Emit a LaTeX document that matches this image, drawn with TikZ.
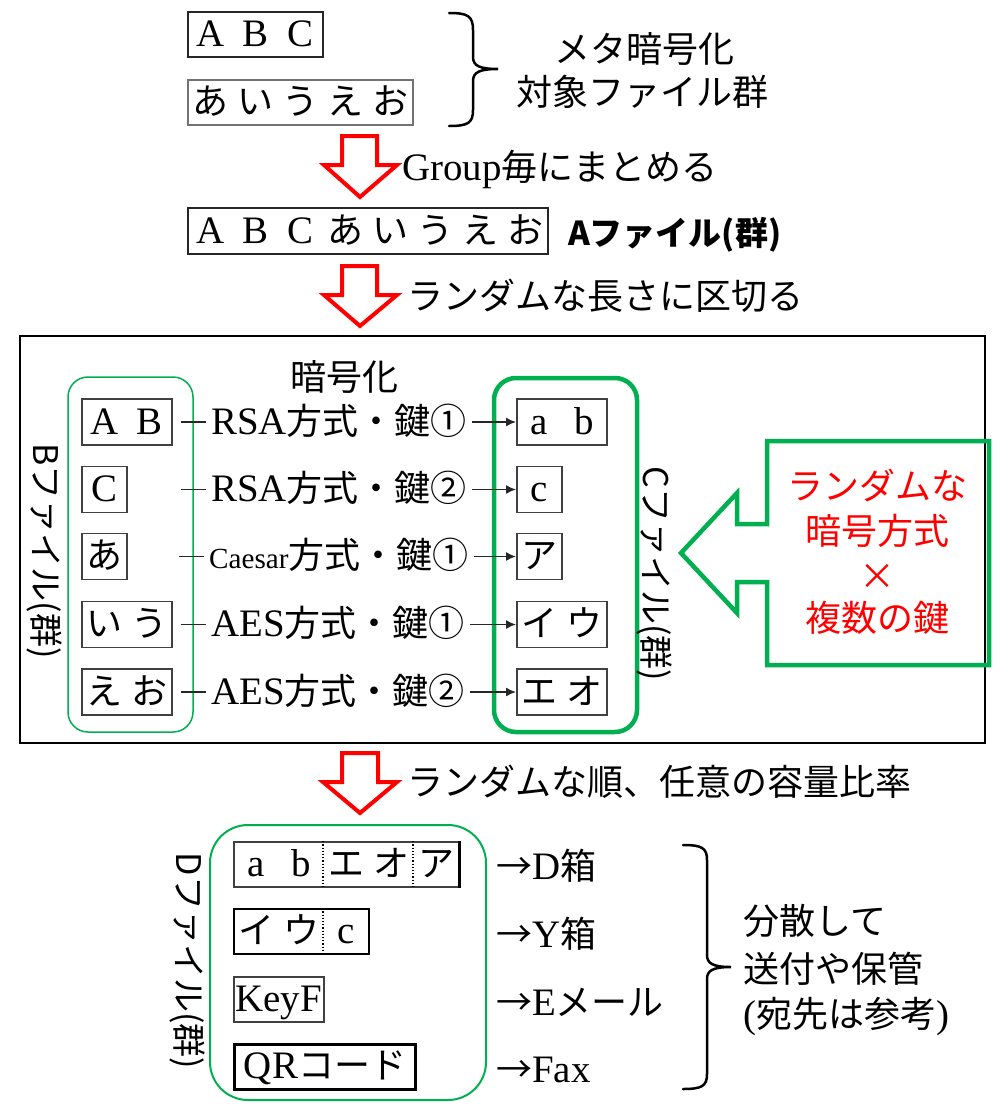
\documentclass[tikz,border=0pt]{standalone}
\usepackage{fontspec}
\setmainfont{Liberation Serif}[Scale=1.08]
\newfontfamily\jpfont{Noto Sans CJK JP}
\usetikzlibrary{arrows.meta,calc}
\definecolor{grn}{RGB}{0,176,80}
\newcommand\J[1]{{\jpfont #1}}
\newcommand\C[1]{\makebox[45pt]{#1}}
\begin{document}
\begin{tikzpicture}[x=1pt,y=-1pt,
  every node/.style={inner sep=0pt, font=\fontsize{36}{43}\selectfont, text height=31pt, text depth=7pt},
  fbox/.style={draw=black!75, line width=1.5pt, minimum height=46pt, anchor=west},
  txt/.style={anchor=west},
  lbl/.style={anchor=west, inner xsep=5pt},
  vlab/.style={rotate=-90, font=\fontsize{34}{40}\selectfont\jpfont},
  conn/.style={line width=1.5pt, draw=black!85},
  tip/.style={-{Latex[length=10pt,width=9pt]}},
  redarrow/.style={draw=red, line width=4pt, fill=white, line join=miter},
  grnarrow/.style={draw=grn, line width=4.5pt, line join=miter},
  brace/.style={line width=2.5pt, line cap=round},
  redtxt/.style={text=red}]
\useasboundingbox (0,0) rectangle (1005,1114);

% ---------- top ----------
\node[fbox, minimum height=45pt, draw=black!85] (abc) at (187,34.5) {\C{A}\C{B}\C{C}};
\node[fbox, minimum height=45pt, draw=black!55] (aiu) at (187,102.5) {\C{\J{あ}}\C{\J{い}}\C{\J{う}}\C{\J{え}}\C{\J{お}}};
\draw[brace] (449,13) .. controls (468,13) and (473,16) .. (473,30) -- (473,57)
  .. controls (473,66) and (480,69) .. (498,69) .. controls (480,69) and (473,72) .. (473,81)
  -- (473,110) .. controls (473,123) and (468,126) .. (449,126);
\node (meta1) at (644,50) {\J{メタ暗号化}};
\node (meta2) at (642,93) {\J{対象ファイル群}};

\draw[redarrow] (342,136) -- (377,136) -- (377,165) -- (397,165) -- (360,197) -- (324,165) -- (342,165) -- cycle;
\node[txt] (grp) at (402,168) {Group\J{毎にまとめる}};

\node[fbox, line width=2pt, draw=black!85] (long) at (187,231) {\C{A}\C{B}\C{C}\C{\J{あ}}\C{\J{い}}\C{\J{う}}\C{\J{え}}\C{\J{お}}};
\node[txt, font=\fontsize{33}{40}\selectfont\jpfont\bfseries] (alab) at (568,233) {Aファイル(群)};

\draw[redarrow] (342,266) -- (377,266) -- (377,295) -- (397,295) -- (360,326) -- (324,295) -- (342,295) -- cycle;
\node[txt] (rand1) at (407,297) {\J{ランダムな長さに区切る}};

% ---------- middle box ----------
\draw[line width=2pt] (20,336) rectangle (985,743);
\draw[grn, line width=1.5pt, rounded corners=20pt] (68,377) rectangle (193,732);
\draw[grn, line width=4.5pt, rounded corners=22pt] (494,378) rectangle (637,732);
\node (enc) at (344,378) {\J{暗号化}};

\node[vlab] (blab) at (45,551) {Bファイル(群)};
\node[vlab] (clab) at (655,574) {Cファイル(群)};

\node[fbox] (b1) at (81,422) {\C{A}\C{B}};
\node[fbox] (b2) at (81,489.5) {\C{C}};
\node[fbox] (b3) at (81,556.5) {\C{\J{あ}}};
\node[fbox] (b4) at (81,624.5) {\C{\J{い}}\C{\J{う}}};
\node[fbox] (b5) at (81,692) {\C{\J{え}}\C{\J{お}}};

\node[fbox] (c1) at (516,422) {\C{a}\C{b}};
\node[fbox] (c2) at (516,489.5) {\C{c}};
\node[fbox] (c3) at (516,556.5) {\C{\J{ア}}};
\node[fbox] (c4) at (516,624.5) {\C{\J{イ}}\C{\J{ウ}}};
\node[fbox] (c5) at (516,692) {\C{\J{エ}}\C{\J{オ}}};

\node[lbl] (l1) at (206,422) {RSA\J{方式・鍵①}};
\node[lbl] (l2) at (206,489.5) {RSA\J{方式・鍵②}};
\node[lbl] (l3) at (204,556.5) {{\fontsize{27}{30}\selectfont Caesar}\J{方式・鍵①}};
\node[lbl] (l4) at (206,624.5) {AES\J{方式・鍵①}};
\node[lbl] (l5) at (206,692) {AES\J{方式・鍵②}};

\coordinate (s1) at (181,422);
\coordinate (s2) at (181,489.5);
\coordinate (s3) at (179,556.5);
\coordinate (s4) at (181,624.5);
\coordinate (s5) at (181,692);
\foreach \i in {1,...,5}{
  \draw[conn] (s\i) -- (l\i.west);
  \draw[conn, tip] (l\i.east) -- (c\i.west);
}

\draw[grnarrow] (767,441) -- (989,441) -- (989,665) -- (767,665) -- (767,582) -- (737,582) -- (737,613) -- (681,553) -- (737,493) -- (737,524) -- (767,524) -- cycle;
\node[redtxt] (red1) at (877,487) {\J{ランダムな}};
\node[redtxt] (red2) at (877,532) {\J{暗号方式}};
\node[redtxt] (red3) at (877,577) {\J{×}};
\node[redtxt] (red4) at (877,619) {\J{複数の鍵}};

% ---------- bottom ----------
\draw[redarrow] (342,753) -- (378,753) -- (378,782) -- (397,782) -- (360,813) -- (323,782) -- (342,782) -- cycle;
\node[txt] (rand2) at (407,783) {\J{ランダムな順、任意の容量比率}};

\draw[grn, line width=2pt, rounded corners=38pt] (210,825) rectangle (486,1100);
\node[vlab] (dlab) at (188,961) {Dファイル(群)};

\node[fbox, minimum height=45pt] (d1) at (233,864.5) {\C{a}\C{b}\C{\J{エ}}\C{\J{オ}}\C{\J{ア}}};
\draw[dotted, line width=1.2pt] ([xshift=90pt]d1.north west) -- ([xshift=90pt]d1.south west);
\draw[dotted, line width=1.2pt] ([xshift=180pt]d1.north west) -- ([xshift=180pt]d1.south west);
\draw[line width=3pt] (d1.north east) -- (d1.south east);

\node[fbox, minimum height=45pt, draw=black] (d2) at (233,931.5) {\C{\J{イ}}\C{\J{ウ}}\C{c}};
\draw[dotted, line width=1.2pt] ([xshift=90pt]d2.north west) -- ([xshift=90pt]d2.south west);

\node[fbox, minimum height=45pt, minimum width=90pt] (d3) at (233,999.5) {KeyF};
\node[fbox, minimum height=45pt, minimum width=181pt, draw=black, line width=3pt] (d4) at (233,1066.5) {QR\J{コード}};

\node[txt] (t1) at (496,867) {\J{→}D\J{箱}};
\node[txt] (t2) at (496,935) {\J{→}Y\J{箱}};
\node[txt] (t3) at (496,1003) {\J{→}E\J{メール}};
\node[txt] (t4) at (496,1070) {\J{→}Fax};

\draw[brace] (683,845) .. controls (702,845) and (707,848) .. (707,860) -- (707,955)
  .. controls (707,963) and (712,967) .. (731,967) .. controls (712,967) and (707,971) .. (707,979)
  -- (707,1074) .. controls (707,1086) and (702,1089) .. (683,1089);
\node[txt] (dist1) at (743,922) {\J{分散して}};
\node[txt] (dist2) at (743,970) {\J{送付や保管}};
\node[txt] (dist3) at (743,1015) {(\J{宛先は参考})};
\end{tikzpicture}
\end{document}
